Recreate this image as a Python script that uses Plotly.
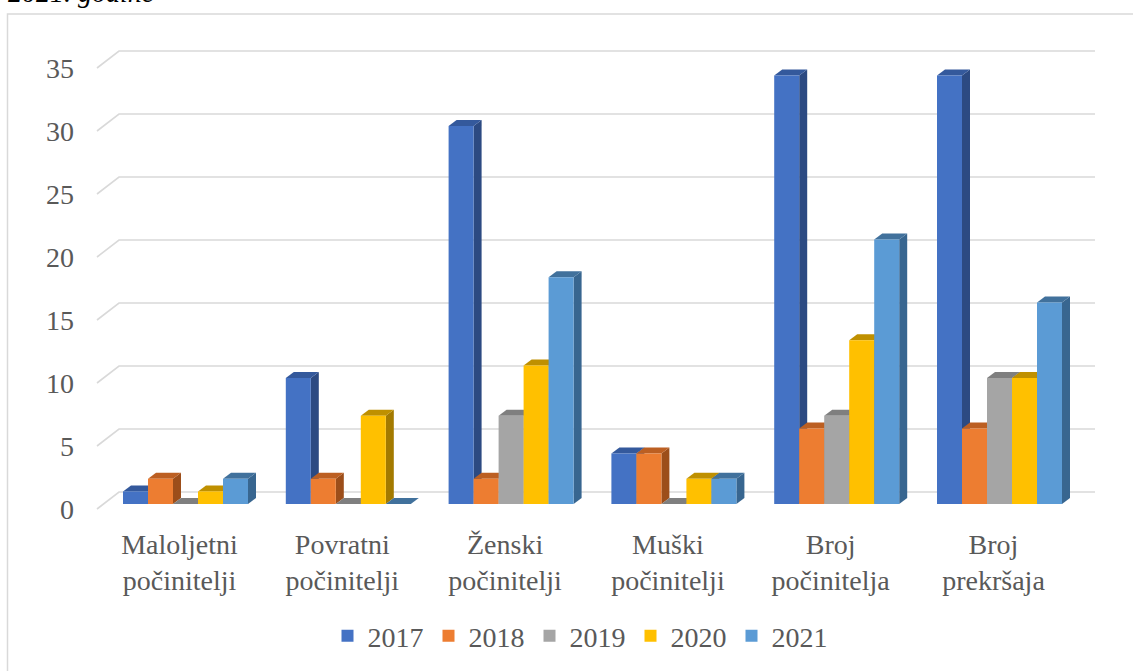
import plotly.graph_objects as go

# ---------------- data ----------------
categories = ["Maloljetni<br>počinitelji", "Povratni<br>počinitelji", "Ženski<br>počinitelji",
              "Muški<br>počinitelji", "Broj<br>počinitelja", "Broj<br>prekršaja"]
years = ["2017", "2018", "2019", "2020", "2021"]
v2017 = [1, 10, 30, 4, 34, 34]
v2018 = [2, 2, 2, 4, 6, 6]
v2019 = [0, 0, 7, 0, 7, 10]
v2020 = [1, 7, 11, 2, 13, 10]
v2021 = [2, 0, 18, 2, 21, 16]
y_ticks = [0, 5, 10, 15, 20, 25, 30, 35]
series = [v2017, v2018, v2019, v2020, v2021]

# ---------------- styling ----------------
front_col = ["#4472C4", "#ED7D31", "#A5A5A5", "#FFC000", "#5B9BD5"]
side_col = ["#2C4A82", "#9C4E1A", "#6F6F6F", "#A37A00", "#386690"]
top_col = ["#34599C", "#BC5F22", "#7F7F7F", "#BF9000", "#41719C"]
FONT = "Liberation Serif, Times New Roman, serif"
TXT = "#595959"
GRID = "#D9D9D9"

# ---------------- geometry (pixel layout) ----------------
W, H = 1133, 671
L, R, T, B = 80, 1110, 25, 525
CAT_PX = 162.8      # pixels per category
C0_PX = 185.5       # pixel x of the first category centre
BASE_PX = 504       # pixel y of value 0 (bar base)
UNIT_PX = 12.6      # pixels per unit
CLUSTER = 125 / CAT_PX
BW = CLUSTER / len(years)
DX = 8 / CAT_PX     # bar depth (x)
DY = 6 / UNIT_PX    # bar depth (y)

xr_range = [(L - C0_PX) / CAT_PX, (R - C0_PX) / CAT_PX]
yr_range = [(BASE_PX - B) / UNIT_PX, (BASE_PX - T) / UNIT_PX]

def px_x(p):
    return (p - C0_PX) / CAT_PX

fig = go.Figure()

# front faces as real bars
for j, yr in enumerate(years):
    fig.add_trace(go.Bar(
        x=list(range(len(categories))), y=series[j], name=yr,
        marker=dict(color=front_col[j], line=dict(width=0)),
        hovertemplate="%{y}<extra>" + yr + "</extra>",
    ))

shapes = []
# back-wall gridlines with left-wall diagonal
for v in y_ticks:
    yf = v - 5 / UNIT_PX
    yb = v + 12 / UNIT_PX
    shapes.append(dict(
        type="path", xref="x", yref="y", layer="below",
        path=f"M{px_x(97)},{yf} L{px_x(119)},{yb} L{px_x(1095)},{yb}",
        line=dict(color=GRID, width=1.6)))

# 3D side and top faces (painter's order: left series first)
for j in range(len(years)):
    for i, v in enumerate(series[j]):
        xl = i - CLUSTER / 2 + j * BW
        xr = xl + BW
        if v > 0:
            shapes.append(dict(
                type="path", xref="x", yref="y", layer="below",
                path=f"M{xr},0 L{xr + DX},{DY} L{xr + DX},{v + DY} L{xr},{v} Z",
                fillcolor=side_col[j], line=dict(width=0)))
        shapes.append(dict(
            type="path", xref="x", yref="y", layer="below",
            path=f"M{xl},{v} L{xr},{v} L{xr + DX},{v + DY} L{xl + DX},{v + DY} Z",
            fillcolor=top_col[j], line=dict(width=0)))

# chart border
pw, ph = R - L, B - T
shapes.append(dict(
    type="rect", xref="paper", yref="paper", layer="below",
    x0=(7.5 - L) / pw, x1=(W + 20 - L) / pw,
    y0=(B - (H + 20)) / ph, y1=(B - 14) / ph,
    line=dict(color=GRID, width=1.5), fillcolor="rgba(0,0,0,0)"))

fig.update_layout(
    template="none",
    width=W, height=H,
    margin=dict(l=L, r=W - R, t=T, b=H - B, autoexpand=False),
    paper_bgcolor="white", plot_bgcolor="white",
    barmode="group", bargap=1 - CLUSTER, bargroupgap=0,
    shapes=shapes,
    font=dict(family=FONT, size=28, color=TXT),
    showlegend=True,
    legend=dict(orientation="h", x=(580 - L) / pw, xanchor="center",
                y=(B - 636) / ph, yanchor="middle",
                font=dict(family=FONT, size=28, color=TXT),
                itemwidth=30, traceorder="normal", bgcolor="rgba(0,0,0,0)"),
    annotations=[dict(
        text="<i>2021. godine</i>", xref="paper", yref="paper",
        x=(6 - L) / pw, y=(B - 10) / ph, xanchor="left", yanchor="bottom",
        showarrow=False, font=dict(family=FONT, size=28, color="black"))],
)
fig.update_xaxes(range=xr_range, tickvals=list(range(len(categories))), ticktext=categories,
                 showgrid=False, zeroline=False, showline=False, ticks="", automargin=False,
                 tickfont=dict(family=FONT, size=28, color=TXT), ticklabelshift=-6)
fig.update_yaxes(range=yr_range, tickvals=y_ticks, showgrid=False, zeroline=False,
                 showline=False, ticks="", ticklabelstandoff=5, ticklabelshift=5, automargin=False,
                 tickfont=dict(family=FONT, size=28, color=TXT))

fig.write_html("out.html", config={"displayModeBar": False},
               post_script="document.body.style.margin='0';")
